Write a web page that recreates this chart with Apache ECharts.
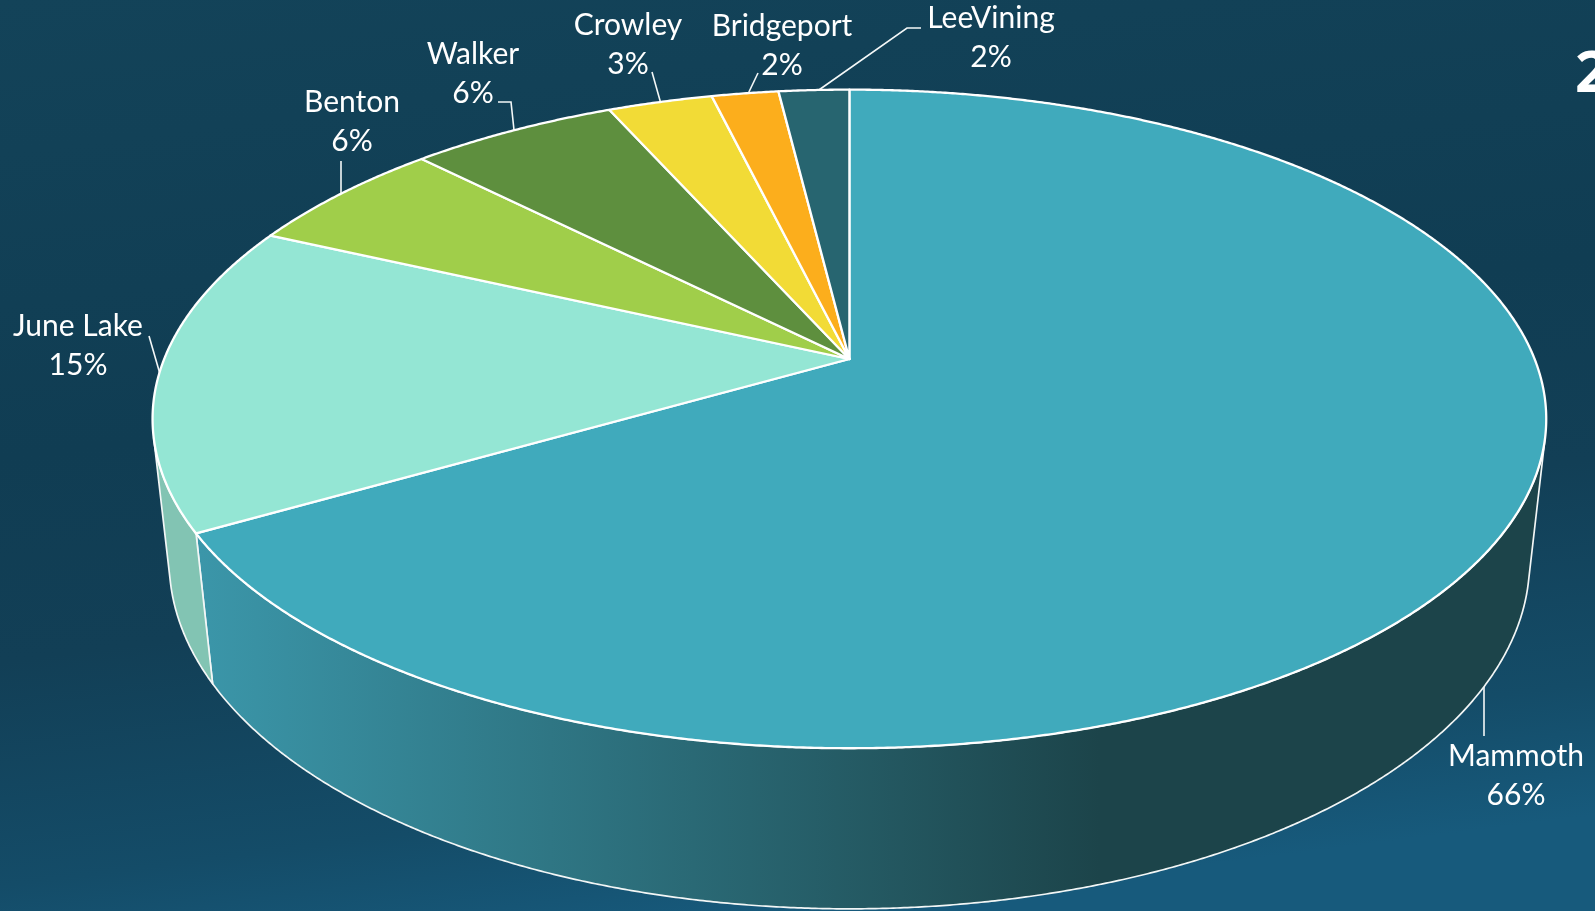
<!DOCTYPE html>
<html>
<head>
<meta charset="utf-8">
<title>Pie</title>
<style>
  html, body { margin: 0; padding: 0; height: 100%; overflow: hidden; background: #124259; }
  #chart { width: 1595px; height: 911px; }
</style>
<script src="https://cdn.jsdelivr.net/npm/echarts@6/dist/echarts.min.js"></script>
</head>
<body>
<div id="chart"></div>
<script>
// values, clockwise from 12 o'clock
const names = ['Mammoth', 'June Lake', 'Benton', 'Walker', 'Crowley', 'Bridgeport', 'LeeVining']
const values = [66.7, 15.15, 5.7, 5.75, 2.9, 1.85, 1.95]
const percentLabels = ['66%', '15%', '6%', '6%', '3%', '2%', '2%']

const topColors = ['#40aabc', '#94e6d4', '#a0ce4a', '#5e8f3e', '#f2db36', '#fcae1c', '#276570']
const sideColors = ['#3a95a8', '#82c4b3', '#7fa53b', '#4b7232', '#c2af2b', '#ca8b16', '#1f515a']

// label centre, then leader line points
const labelLayout = [
  { x: 1516, y: 776, line: [[1484, 687], [1484, 736]] },
  { x: 78, y: 346, line: [[149, 336], [160, 374]] },
  { x: 352, y: 122, line: [[341, 161], [341, 193]] },
  { x: 473, y: 74, line: [[498, 102], [511, 102], [514, 130]] },
  { x: 628, y: 45, line: [[652, 72], [661, 104]] },
  { x: 782, y: 46, line: [[758, 73], [747, 96]] },
  { x: 991, y: 38, line: [[921, 28], [907, 28], [816, 92]] }
]

// perspective of the tilted disc
const view = { x0: 849.4, y0: 359, a: 318.4, b: 685.2, k: 0.182, depth: 144.4, m: 0.0237 }

// angle clockwise from the top, level 0 = top face, 1 = bottom face
function project (angle, radius, level) {
  const X = Math.sin(angle) * radius
  const Y = -Math.cos(angle) * radius
  const w = 1 - view.k * Y + view.m * level
  return [view.x0 + view.b * X / w, view.y0 + (view.a * Y + view.depth * level) / w]
}

function angles (start, end) {
  const steps = Math.max(2, Math.ceil((end - start) / (Math.PI / 720)))
  const list = []
  for (let i = 0; i <= steps; i++) {
    list.push(start + (end - start) * i / steps)
  }
  return list
}

// is the wall facing us at this angle
function wallVisible (angle) {
  const p = project(angle, 1, 0)
  const q = project(angle + 0.001, 1, 0)
  const b = project(angle, 1, 1)
  return (q[0] - p[0]) * (b[1] - p[1]) - (q[1] - p[1]) * (b[0] - p[0]) < 0
}

const total = values.reduce((s, v) => s + v, 0)
let acc = 0
const slices = values.map((v, i) => {
  const start = acc / total * Math.PI * 2
  acc += v
  return { name: names[i], value: [start, acc / total * Math.PI * 2] }
})

const sideFill = [
  new echarts.graphic.LinearGradient(200, 0, 1100, 0, [
    { offset: 0, color: '#3b96a9' },
    { offset: 1, color: '#1c444a' }
  ], true)
].concat(sideColors.slice(1))

const chart = echarts.init(document.getElementById('chart'))
chart.setOption({
  animation: false,
  backgroundColor: new echarts.graphic.LinearGradient(0, 0, 0.08, 1.1, [
    { offset: 0, color: '#134359' },
    { offset: 0.45, color: '#103d53' },
    { offset: 0.65, color: '#123f56' },
    { offset: 0.87, color: '#144c68' },
    { offset: 1, color: '#175a7c' }
  ]),
  series: [
    {
      // walls first, the top faces cover the rest
      type: 'custom',
      coordinateSystem: 'none',
      silent: true,
      data: slices,
      renderItem (params, api) {
        const seen = angles(api.value(0), api.value(1)).filter(wallVisible)
        if (seen.length < 2) return
        const upper = seen.map(a => project(a, 1, 0))
        const lower = seen.map(a => project(a, 1, 1)).reverse()
        return {
          type: 'polygon',
          shape: { points: upper.concat(lower) },
          style: { fill: sideFill[params.dataIndex], stroke: '#f2f6f6', lineWidth: 1.7, lineJoin: 'round' }
        }
      }
    },
    {
      type: 'custom',
      coordinateSystem: 'none',
      silent: true,
      data: slices,
      renderItem (params, api) {
        const pts = angles(api.value(0), api.value(1)).map(a => project(a, 1, 0))
        pts.push(project(0, 0, 0))
        return {
          type: 'polygon',
          shape: { points: pts },
          style: { fill: topColors[params.dataIndex], stroke: '#ffffff', lineWidth: 2.3, lineJoin: 'round' }
        }
      }
    }
  ],
  graphic: labelLayout.flatMap((l, i) => [
    {
      type: 'polyline',
      silent: true,
      shape: { points: l.line },
      style: { fill: null, stroke: '#f4f8f8', lineWidth: 1.6 }
    },
    {
      type: 'text',
      silent: true,
      x: l.x,
      y: l.y,
      style: {
        text: names[i] + '\n' + percentLabels[i],
        fill: '#ffffff',
        font: '30px Lato',
        lineHeight: 39,
        align: 'center',
        verticalAlign: 'middle'
      }
    }
  ]).concat([
    {
      // title cut off by the edge of the slide
      type: 'text',
      silent: true,
      x: 1575,
      y: 75,
      style: { text: '2', fill: '#ffffff', font: 'bold 58px "Open Sans"', verticalAlign: 'middle' }
    }
  ])
})
</script>
</body>
</html>
